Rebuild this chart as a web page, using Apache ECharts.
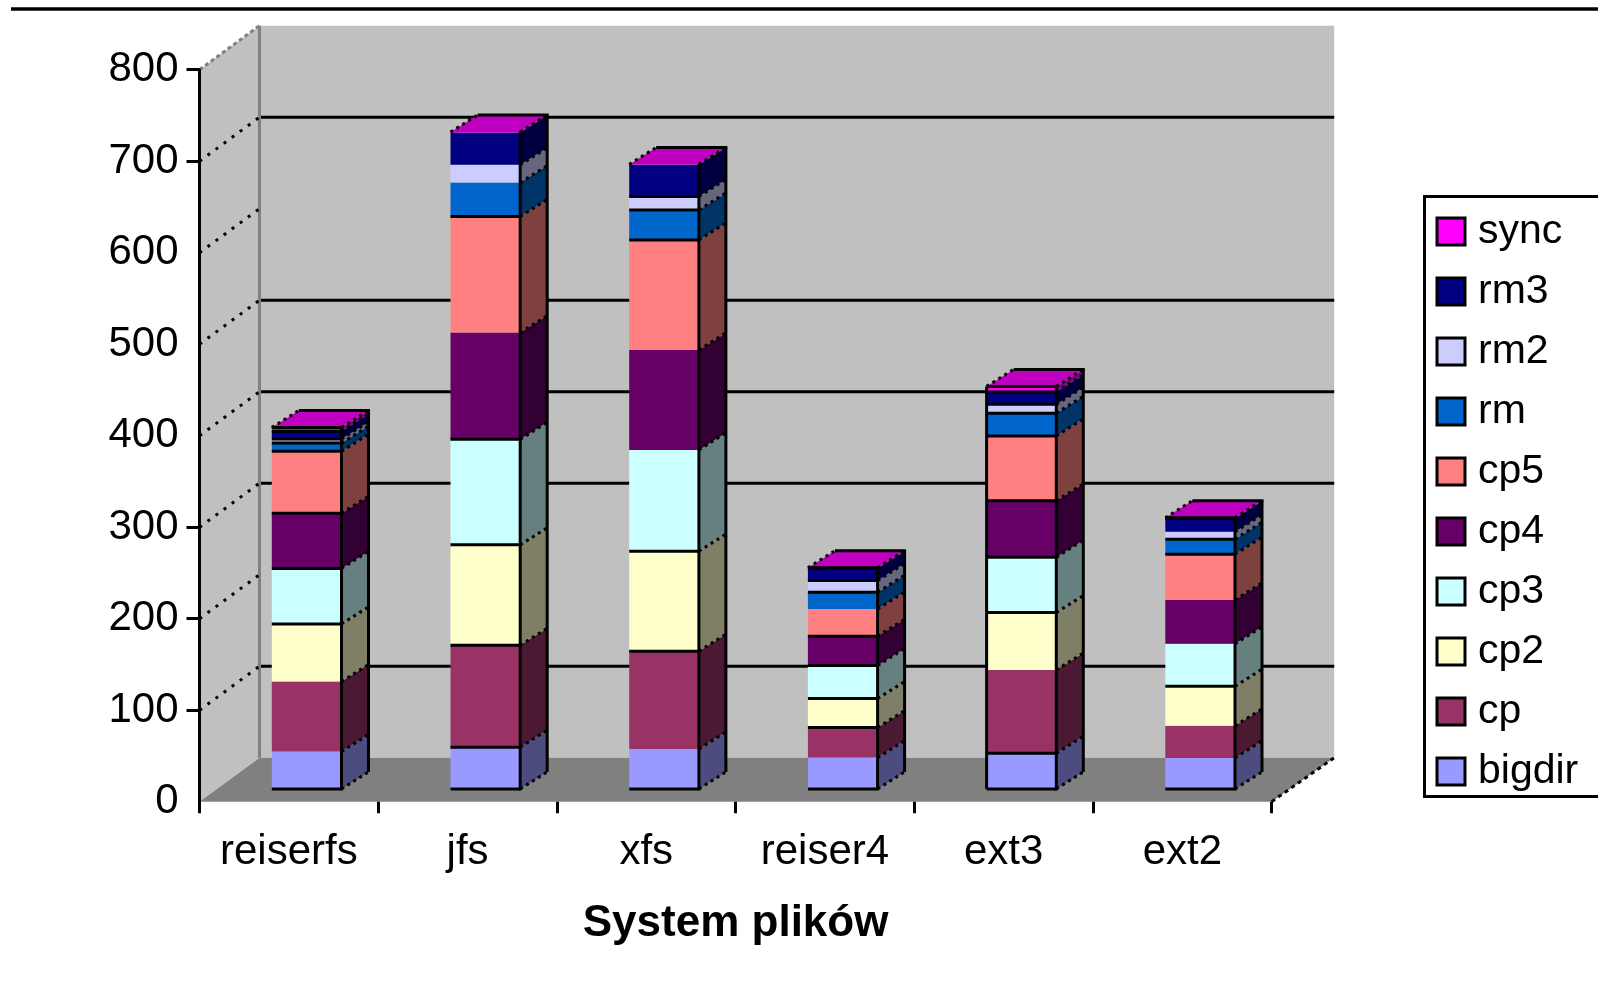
<!DOCTYPE html>
<html>
<head>
<meta charset="utf-8">
<title>System plików</title>
<style>html,body{margin:0;padding:0;background:#fff}#chart{width:1598px;height:984px}</style>
<script src="https://cdn.jsdelivr.net/npm/echarts@6/dist/echarts.min.js"></script>
</head>
<body>
<div id="chart"></div>
<script>
// File systems along the x axis
const categories = ['reiserfs', 'jfs', 'xfs', 'reiser4', 'ext3', 'ext2'];

// Time per benchmark step, one value per file system
const bigdir = [40.8, 45.6, 43.7, 34.2, 39.0, 33.9];
const cp     = [76.5, 111.4, 106.8, 32.8, 91.0, 35.0];
const cp2    = [63.0, 109.7, 109.3, 31.7, 62.7, 43.3];
const cp3    = [60.7, 115.3, 110.7, 36.1, 60.5, 46.3];
const cp4    = [60.3, 116.7, 109.3, 32.1, 61.6, 48.1];
const cp5    = [67.6, 126.8, 120.2, 29.8, 71.0, 49.9];
const rm     = [9.0, 37.1, 32.8, 18.3, 24.8, 16.4];
const rm2    = [4.6, 19.4, 14.6, 12.7, 9.8, 8.1];
const rm3    = [8.5, 35.3, 34.6, 13.5, 13.5, 14.8];
const sync   = [4.0, 0.5, 0.5, 0.5, 6.0, 0.5];

const stepNames = ['bigdir', 'cp', 'cp2', 'cp3', 'cp4', 'cp5', 'rm', 'rm2', 'rm3', 'sync'];
const stepValues = [bigdir, cp, cp2, cp3, cp4, cp5, rm, rm2, rm3, sync];
const stepColors = ['#9999FF', '#993366', '#FFFFCC', '#CCFFFF', '#660066', '#FF8080', '#0066CC', '#CCCCFF', '#000080', '#FF00FF'];
const sideColors = ['#4C4C7F', '#4C1933', '#7F7F66', '#667F7F', '#330033', '#7F4040', '#003366', '#66667F', '#000040', '#7F007F'];
const capColor = '#C000C0';

// Which front-face seams carry a black rule (top edge of each step, per bar)
const seamRules = [
  [0, 0, 1, 1, 1, 1, 1, 1, 1, 1],
  [1, 1, 1, 1, 0, 1, 0, 0, 0, 0],
  [0, 1, 1, 0, 0, 1, 1, 1, 0, 0],
  [0, 1, 1, 1, 1, 0, 1, 1, 1, 1],
  [1, 0, 1, 1, 1, 1, 1, 1, 1, 1],
  [0, 0, 1, 0, 0, 1, 1, 0, 1, 1]
];
const leftRules = [0, 0, 0, 0, 1, 0];

const backGridValues = [100, 300, 400, 500, 700];
const sideGridValues = [100, 200, 300, 400, 500, 600, 700];
const yTickValues = [100, 200, 300, 700, 800];

// Perspective of the box and of the bars inside it
const WALL_DX = 60, WALL_DY = 44, WALL_RIGHT_DX = 62.5;
const BAR_SHIFT_X = 17.8, BAR_SHIFT_Y = 12.8, BAR_DX = 27, BAR_DY = 17, BAR_RATIO = 0.39;
const RULE = 3;
const FONT = '"Liberation Sans", Arial, sans-serif';

function line(x1, y1, x2, y2, dash, color, z2) {
  return {
    type: 'line', z2: z2 === undefined ? 20 : z2,
    shape: { x1, y1, x2, y2 },
    style: { stroke: color || '#000', lineWidth: RULE, lineDash: dash || null, fill: null }
  };
}
function poly(points, fill, z2) {
  return { type: 'polygon', z2, shape: { points }, style: { fill, stroke: null } };
}

// Back wall, side wall, floor and their grid lines
function renderBox(params, api) {
  const cs = params.coordSys;
  const xL = cs.x, xR = cs.x + cs.width;
  const yTop = api.coord([0, 800])[1], yZero = api.coord([0, 0])[1];
  const bL = xL + WALL_DX, bR = xR + WALL_RIGHT_DX;
  const children = [
    poly([[bL, yTop - WALL_DY], [bR, yTop - WALL_DY], [bR, yZero - WALL_DY], [bL, yZero - WALL_DY]], '#C0C0C0', 1),
    poly([[xL, yTop], [bL, yTop - WALL_DY], [bL, yZero - WALL_DY], [xL, yZero]], '#C0C0C0', 1),
    poly([[xL, yZero], [xR, yZero], [bR, yZero - WALL_DY], [bL, yZero - WALL_DY]], '#808080', 1),
    line(bL, yTop - WALL_DY, bL, yZero - WALL_DY, null, '#808080', 2),
    line(xL, yTop, bL, yTop - WALL_DY, [4, 3], '#808080', 2),
    line(xR, yZero, bR, yZero - WALL_DY, [4, 4], '#000', 2)
  ];
  backGridValues.forEach(v => {
    const y = api.coord([0, v])[1] - WALL_DY;
    children.push(line(bL + 1.5, y, bR, y, null, '#000', 2));
  });
  sideGridValues.forEach(v => {
    const y = api.coord([0, v])[1];
    children.push(line(xL, y, bL, y - WALL_DY, [3, 7], '#000', 2));
  });
  return { type: 'group', children };
}

// One step of a stacked bar: front face, side face and its black rules
function renderStep(stepIndex) {
  return function (params, api) {
    const cat = api.value(0);
    const c0 = api.coord([cat, api.value(1)]);
    const c1 = api.coord([cat, api.value(2)]);
    const w = api.size([1, 0])[0] * BAR_RATIO;
    const xA = c0[0] + BAR_SHIFT_X - w / 2, xB = xA + w;
    const yB = c0[1] - BAR_SHIFT_Y, yT = c1[1] - BAR_SHIFT_Y;
    const children = [
      poly([[xA, yT], [xB, yT], [xB, yB], [xA, yB]], stepColors[stepIndex], 5),
      poly([[xB, yT], [xB + BAR_DX, yT - BAR_DY], [xB + BAR_DX, yB - BAR_DY], [xB, yB]], sideColors[stepIndex], 5),
      line(xB, yT, xB + BAR_DX, yT - BAR_DY, [3, 4], '#000', 10)
    ];
    if (seamRules[cat][stepIndex]) {
      children.push(line(xA, yT, xB, yT, null, '#000', 10));
    }
    if (stepIndex === 0) {
      children.push(line(xA, yB, xB, yB, null, '#000', 10));
      children.push(line(xB, yB, xB + BAR_DX, yB - BAR_DY, [3, 4], '#000', 10));
    }
    if (stepIndex === stepNames.length - 1) {
      const yBase = api.coord([cat, 0])[1] - BAR_SHIFT_Y;
      children.push(poly([[xA, yT], [xA + BAR_DX, yT - BAR_DY], [xB + BAR_DX, yT - BAR_DY], [xB, yT]], capColor, 7));
      children.push(line(xA, yT, xA + BAR_DX, yT - BAR_DY, [3, 4], '#000', 10));
      children.push(line(xA + BAR_DX, yT - BAR_DY, xB + BAR_DX + 1.5, yT - BAR_DY, null, '#000', 10));
      children.push(line(xB + BAR_DX, yT - BAR_DY, xB + BAR_DX, yBase - BAR_DY, null, '#000', 10));
      children.push(line(xB, yT, xB, yBase + 1.5, null, '#000', 10));
      if (leftRules[cat]) {
        children.push(line(xA, yT, xA, yBase, null, '#000', 10));
      }
    }
    return { type: 'group', children };
  };
}

// Running totals give each step its lower and upper value
const running = categories.map(() => 0);
const stepSeries = stepNames.map((name, s) => {
  const data = categories.map((_, c) => {
    const lo = running[c];
    running[c] = lo + stepValues[s][c];
    return [c, lo, running[c]];
  });
  return {
    type: 'custom', name, z: 3, silent: true,
    itemStyle: { color: stepColors[s] },
    encode: { x: 0, y: 2 },
    renderItem: renderStep(s),
    data
  };
});

const chart = echarts.init(document.getElementById('chart'), null, { renderer: 'canvas' });
chart.setOption({
  animation: false,
  backgroundColor: '#fff',
  textStyle: { fontFamily: FONT, color: '#000' },
  grid: { left: 199.5, top: 69.7, width: 1072.2, height: 732, containLabel: false },
  xAxis: {
    type: 'category',
    data: categories,
    axisLine: { show: false },
    axisTick: { show: true, length: 11.6, lineStyle: { color: '#000', width: RULE } },
    axisLabel: { color: '#000', fontSize: 42, fontFamily: FONT, margin: 30, hideOverlap: false, interval: 0 },
    name: 'System plików',
    nameLocation: 'middle',
    nameGap: 100,
    nameTextStyle: { color: '#000', fontSize: 44, fontWeight: 'bold', fontFamily: FONT },
    z: 10
  },
  yAxis: {
    type: 'value',
    min: 0, max: 800, interval: 100,
    axisLine: { show: true, lineStyle: { color: '#000', width: RULE } },
    axisTick: { show: true, length: 13, customValues: yTickValues, lineStyle: { color: '#000', width: RULE } },
    axisLabel: { color: '#000', fontSize: 42, fontFamily: FONT, margin: 21 },
    splitLine: { show: false },
    z: 10
  },
  legend: {
    orient: 'vertical',
    left: 1435.5, top: 211,
    padding: 0,
    selectedMode: false,
    icon: 'rect',
    itemWidth: 28, itemHeight: 27, itemGap: 19,
    itemStyle: { borderColor: '#000', borderWidth: 3 },
    textStyle: { color: '#000', fontSize: 41, fontFamily: FONT, padding: [0, 0, 0, 8] },
    data: stepNames.slice().reverse()
  },
  graphic: [
    { type: 'line', shape: { x1: 11, y1: 9, x2: 1598, y2: 9 }, style: { stroke: '#000', lineWidth: 3.5 } },
    { type: 'rect', z: -1, shape: { x: 1424.5, y: 196.5, width: 190, height: 600 }, style: { fill: '#fff', stroke: '#000', lineWidth: 3 } }
  ],
  series: [{
    type: 'custom', name: 'box', z: 1, silent: true,
    renderItem: renderBox,
    encode: { x: 0, y: 1 },
    data: [[0, 0]]
  }].concat(stepSeries)
});
</script>
</body>
</html>
